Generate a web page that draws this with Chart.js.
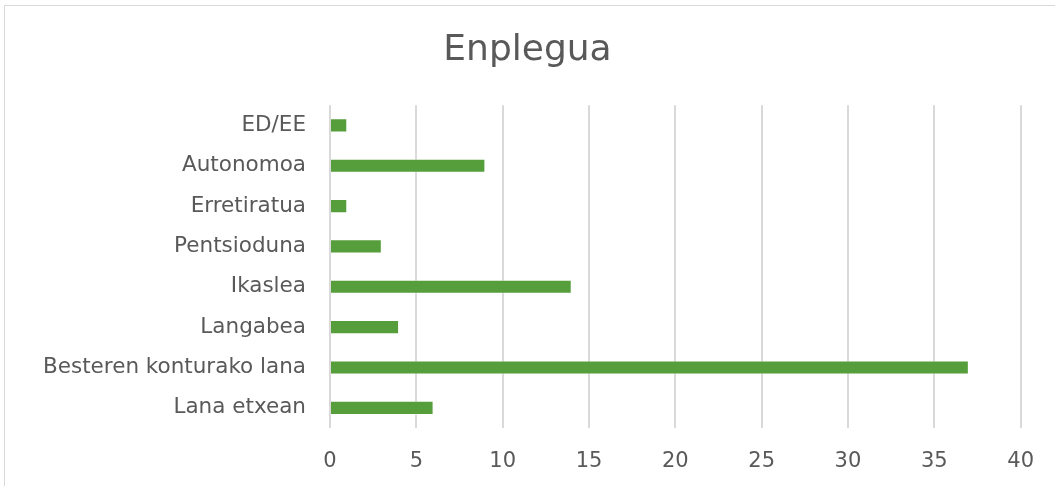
<!DOCTYPE html>
<html>
<head>
<meta charset="utf-8">
<script src="https://cdn.jsdelivr.net/npm/chart.js@4"></script>
<style>
  html, body { margin: 0; padding: 0; background: #fff; }
  #wrap { position: relative; width: 1055px; height: 486px; overflow: hidden; }
  #frame { position: absolute; left: 4px; top: 5px; width: 1060px; height: 500px; border: 1px solid #d9d9d9; box-sizing: border-box; }
  canvas { position: absolute; left: 0; top: 0; }
</style>
</head>
<body>
<div id="wrap">
  <div id="frame"></div>
  <canvas id="chart" width="1055" height="486"></canvas>
</div>
<script>
/* =========================
   DATA
========================= */
const chartTitle = "Enplegua";
const categories = ["ED/EE", "Autonomoa", "Erretiratua", "Pentsioduna", "Ikaslea", "Langabea", "Besteren konturako lana", "Lana etxean"];
const values = [1, 9, 1, 3, 14, 4, 37, 6];
const xTicks = { min: 0, max: 40, step: 5 };

/* =========================
   CHART
========================= */
const FONT = "DejaVu Sans";
const TEXT = "#595959";

new Chart(document.getElementById("chart"), {
    type: "bar",
    data: {
        labels: categories,
        datasets: [{
            data: values,
            backgroundColor: "#559e3b",
            borderColor: "rgba(255,255,255,0.5)",
            borderWidth: 1,
            barPercentage: 1,
            categoryPercentage: 0.35
        }]
    },
    options: {
        indexAxis: "y",
        responsive: false,
        animation: false,
        // equal side padding keeps the title close to the page centre
        layout: { padding: { left: 34, right: 34, top: 0, bottom: 0 } },
        plugins: {
            legend: { display: false },
            tooltip: { enabled: false },
            title: {
                display: true,
                text: chartTitle,
                color: TEXT,
                font: { family: FONT, size: 36, weight: "normal", lineHeight: 1.2 },
                padding: { top: 29, bottom: 33 }
            }
        },
        scales: {
            x: {
                min: xTicks.min,
                max: xTicks.max,
                ticks: { stepSize: xTicks.step, color: TEXT, padding: 21, font: { family: FONT, size: 21 } },
                grid: { color: "#d9d9d9", lineWidth: 2, drawTicks: false },
                border: { display: false },
                afterFit: s => { s.height = 58; }
            },
            y: {
                ticks: { color: TEXT, padding: 24, font: { family: FONT, size: 21.5 } },
                grid: { display: false, drawTicks: false },
                border: { display: false },
                afterFit: s => { s.width = 296; }
            }
        }
    }
});
</script>
</body>
</html>
